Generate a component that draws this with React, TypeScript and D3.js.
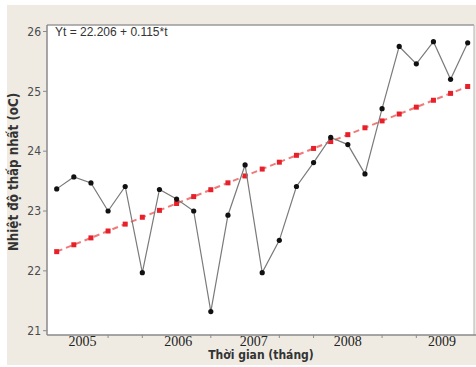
import React from "react";
import * as d3 from "d3";

const tValues = d3.range(1, 26);
const temps = [
  23.37, 23.57, 23.47, 23.0, 23.41, 21.97, 23.36, 23.2, 23.0, 21.32, 22.93, 23.77,
  21.97, 22.51, 23.41, 23.81, 24.23, 24.11, 23.62, 24.71, 25.75, 25.46, 25.83, 25.2, 25.81,
];
const trendIntercept = 22.206;
const trendSlope = 0.115;
const yTicks = [21, 22, 23, 24, 25, 26];
const yearLabels = ["2005", "2006", "2007", "2008", "2009"];
const yearLabelT = [2.5, 8.1, 12.5, 18, 23.5];
const minorTickT = [4, 6, 10, 14, 16, 20, 22];

export default function App() {
  const W = 476, H = 367;
  const x = d3.scaleLinear().domain([1, 25]).range([56.7, 467.7]);
  const y = d3.scaleLinear().domain([21, 26]).range([330.7, 31.5]);
  const left = 47, top = 25, right = 474, bottom = 335;

  const data = tValues.map((t, i) => ({ t, v: temps[i] }));
  const trend = tValues.map((t) => ({ t, v: trendIntercept + trendSlope * t }));
  const line = d3.line<{ t: number; v: number }>().x((d) => x(d.t)).y((d) => y(d.v));

  return (
    <svg width={W} height={H} style={{ position: "absolute", left: 0, top: 0 }}>
      <rect x={0} y={0} width={W} height={H} fill="#ffffff" />
      <rect x={7} y={5} width={W - 7} height={360} fill="#efebe3" />
      <rect x={left} y={top} width={right - left} height={bottom - top} fill="#ffffff" />
      {/* frame */}
      <line x1={left} x2={right} y1={top} y2={top} stroke="#9a9a9a" strokeWidth={1.5} />
      <line x1={right} x2={right} y1={top} y2={bottom} stroke="#b5b5b5" strokeWidth={1} />
      <line x1={left} x2={left} y1={top} y2={bottom} stroke="#8a8a8a" strokeWidth={1.5} />
      <line x1={left} x2={W} y1={bottom} y2={bottom} stroke="#8a8a8a" strokeWidth={1.5} />
      {/* y axis */}
      {yTicks.map((v) => (
        <g key={v}>
          <line x1={left - 4} x2={left} y1={y(v)} y2={y(v)} stroke="#8a8a8a" />
          <text x={left - 6} y={y(v)} dy="0.35em" textAnchor="end" fontFamily="DejaVu Sans Condensed, DejaVu Sans, sans-serif" fontSize={12} fill="#4a4a4a">
            {v}
          </text>
        </g>
      ))}
      {/* x axis */}
      {minorTickT.map((t) => (
        <line key={t} x1={x(t)} x2={x(t)} y1={bottom} y2={bottom + 3} stroke="#8a8a8a" />
      ))}
      {yearLabels.map((s, i) => (
        <text key={s} x={x(yearLabelT[i])} y={bottom + 11} textAnchor="middle" fontFamily="Liberation Serif, Times New Roman, serif" fontSize={14} fill="#222">
          {s}
        </text>
      ))}
      {/* titles */}
      <text x={261} y={359} textAnchor="middle" fontFamily="DejaVu Sans Condensed, DejaVu Sans, sans-serif" fontWeight="bold" fontSize={12} fill="#333">
        Thời gian (tháng)
      </text>
      <text transform="translate(18,172) rotate(-90)" textAnchor="middle" fontFamily="DejaVu Sans Condensed, DejaVu Sans, sans-serif" fontWeight="bold" fontSize={13.2} fill="#333">
        Nhiệt độ thấp nhất (oC)
      </text>
      <text x={55} y={36} fontFamily="Liberation Sans, Arial, sans-serif" fontSize={12} fill="#333" style={{ fontStretch: "condensed" }}>
        Yt = 22.206 + 0.115*t
      </text>
      {/* trend */}
      <path d={line(trend) || ""} fill="none" stroke="#f07a7a" strokeWidth={2} strokeDasharray="6 4" />
      {trend.map((d) => (
        <rect key={d.t} x={x(d.t) - 2.5} y={y(d.v) - 2.5} width={5} height={5} fill="#e8202a" />
      ))}
      {/* series */}
      <path d={line(data) || ""} fill="none" stroke="#7a7a7a" strokeWidth={1.2} />
      {data.map((d) => (
        <circle key={d.t} cx={x(d.t)} cy={y(d.v)} r={2.6} fill="#111" />
      ))}
    </svg>
  );
}
